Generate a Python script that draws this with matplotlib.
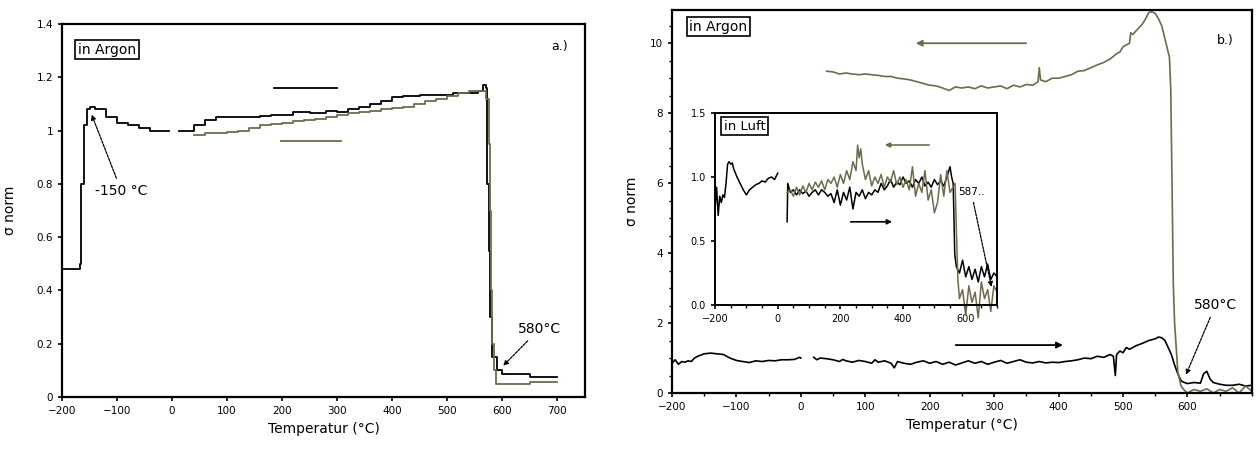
import numpy as np
import matplotlib
matplotlib.use('Agg')
import matplotlib.pyplot as plt

# =============================================================================
# data
# =============================================================================

OLIVE = '#6e6b4b'

# a.) left panel, in Argon
a_heat_T = [-200, -170, -168, -165, -160, -155, -150, -140, -120, -100, -80, -60, -40, -20, -5,
            np.nan,
            12, 25, 40, 60, 80, 120, 160, 180, 200, 220, 250, 280, 300, 320, 340, 360, 380, 400,
            420, 450, 480, 510, 540, 555, 565, 570, 572, 575, 578, 582, 590, 600, 620, 650, 680, 700]
a_heat_s = [0.48, 0.48, 0.50, 0.80, 1.02, 1.08, 1.09, 1.08, 1.05, 1.03, 1.02, 1.01, 1.00, 1.00, 1.00,
            np.nan,
            1.00, 1.00, 1.02, 1.04, 1.05, 1.05, 1.055, 1.06, 1.06, 1.07, 1.065, 1.075, 1.07, 1.08,
            1.09, 1.10, 1.11, 1.125, 1.13, 1.135, 1.135, 1.14, 1.14, 1.15, 1.17, 1.16, 0.80, 0.55,
            0.30, 0.15, 0.10, 0.085, 0.085, 0.075, 0.075, 0.075]

a_cool_T = [700, 650, 600, 592, 588, 585, 582, 580, 578, 575, 570, 560, 540, 520, 500, 480, 460,
            440, 420, 400, 380, 360, 340, 320, 300, 280, 260, 240, 220, 200, 180, 160, 140, 120,
            100, 80, 60, 40]
a_cool_s = [0.055, 0.05, 0.05, 0.05, 0.10, 0.20, 0.40, 0.70, 0.95, 1.12, 1.15, 1.15, 1.14, 1.13,
            1.12, 1.11, 1.10, 1.09, 1.085, 1.08, 1.075, 1.07, 1.065, 1.06, 1.05, 1.045, 1.04,
            1.035, 1.03, 1.025, 1.02, 1.01, 1.00, 0.995, 0.99, 0.99, 0.985, 0.985]

# b.) right panel, in Argon
b_heat_T = [-200, -195, -190, -185, -180, -175, -170, -165, -160, -150, -140, -130, -120, -110,
            -100, -90, -80, -70, -60, -50, -40, -30, -20, -10, -2, 0,
            np.nan,
            20, 25, 30, 40, 50, 60, 65, 70, 80, 90, 100, 110, 115, 120, 130, 140, 145, 150, 160,
            170, 180, 190, 200, 210, 220, 230, 240, 250, 260, 270, 280, 290, 300, 310, 320, 330,
            340, 350, 360, 370, 380, 390, 400, 410, 420, 430, 440, 450, 460, 470, 480, 485, 488,
            490, 495, 500, 505, 510, 520, 530, 540, 550, 555, 560, 565, 570, 575, 580, 585, 590,
            595, 600, 610, 620, 625, 630, 635, 640, 650, 660, 670, 680, 690, 700]
b_heat_s = [0.85, 0.95, 0.82, 0.90, 0.88, 0.92, 0.90, 1.00, 1.05, 1.12, 1.14, 1.12, 1.10, 1.00,
            0.93, 0.90, 0.87, 0.92, 0.90, 0.93, 0.92, 0.95, 0.95, 0.96, 1.02, 1.00,
            np.nan,
            1.02, 0.95, 1.00, 0.98, 0.95, 0.90, 0.96, 0.92, 0.88, 0.93, 0.90, 0.85, 0.95, 0.88,
            0.92, 0.85, 0.72, 0.90, 0.85, 0.82, 0.88, 0.92, 0.85, 0.90, 0.82, 0.88, 0.80, 0.86,
            0.92, 0.85, 0.90, 0.82, 0.88, 0.93, 0.85, 0.90, 0.95, 0.88, 0.86, 0.90, 0.86, 0.88,
            0.87, 0.90, 0.92, 0.95, 1.00, 0.98, 1.05, 1.02, 1.10, 1.05, 0.50, 1.10, 1.20, 1.15,
            1.30, 1.25, 1.35, 1.42, 1.50, 1.55, 1.60, 1.58, 1.50, 1.30, 1.10, 0.80, 0.55, 0.35,
            0.30, 0.27, 0.30, 0.28, 0.55, 0.62, 0.40, 0.30, 0.25, 0.22, 0.22, 0.25, 0.20, 0.22]

b_cool_T = [700, 690, 680, 670, 660, 650, 640, 630, 620, 610, 600, 595, 590, 585, 580, 578, 576,
            574, 572, 568, 564, 560, 555, 550, 545, 540, 535, 530, 525, 520, 515, 512, 510, 505,
            500, 495, 490, 480, 470, 460, 450, 440, 430, 420, 410, 400, 390, 380, 372, 370, 368,
            360, 350, 340, 330, 320, 310, 300, 290, 280, 270, 260, 250, 240, 230, 220, 210, 200,
            190, 180, 170, 160, 150, 140, 130, 120, 110, 100, 90, 80, 70, 60, 50, 40]
b_cool_s = [0.05, 0.20, 0.00, 0.15, 0.05, 0.10, 0.00, 0.12, 0.05, 0.10, 0.00, 0.08, 0.20, 0.60,
            2.00, 3.10, 6.00, 8.70, 9.60, 9.90, 10.20, 10.50, 10.70, 10.85, 10.90, 10.88, 10.70,
            10.55, 10.45, 10.35, 10.25, 10.30, 10.00, 9.95, 9.90, 9.75, 9.70, 9.55, 9.45, 9.38,
            9.30, 9.22, 9.20, 9.10, 9.05, 9.00, 9.00, 8.90, 8.95, 9.30, 8.90, 8.80, 8.82, 8.75,
            8.80, 8.70, 8.78, 8.75, 8.72, 8.78, 8.70, 8.75, 8.72, 8.75, 8.65, 8.72, 8.78, 8.80,
            8.85, 8.90, 8.95, 8.98, 9.00, 9.05, 9.05, 9.08, 9.10, 9.12, 9.10, 9.12, 9.15, 9.12,
            9.18, 9.20]

# inset, in Luft
l_heat_T = [-200, -195, -190, -185, -180, -175, -170, -165, -160, -155, -150, -145, -140, -130,
            -120, -110, -100, -90, -80, -70, -60, -50, -40, -30, -20, -10, 0,
            np.nan,
            30, 32, 40, 50, 60, 70, 80, 90, 100, 110, 120, 130, 140, 150, 160, 170, 180, 190, 200,
            210, 220, 230, 240, 250, 260, 270, 280, 290, 300, 310, 320, 330, 340, 350, 360, 370,
            380, 390, 400, 410, 420, 430, 440, 450, 460, 470, 480, 490, 500, 510, 520, 530, 540,
            550, 555, 560, 565, 570, 580, 590, 600, 610, 620, 630, 640, 650, 660, 670, 680, 690,
            700]
l_heat_s = [0.75, 0.92, 0.70, 0.85, 0.80, 0.86, 0.84, 0.95, 1.10, 1.12, 1.10, 1.11, 1.06, 1.00,
            0.95, 0.90, 0.86, 0.90, 0.92, 0.94, 0.95, 0.97, 0.96, 0.99, 1.00, 0.98, 1.03,
            np.nan,
            0.65, 0.95, 0.88, 0.90, 0.86, 0.90, 0.87, 0.89, 0.85, 0.88, 0.90, 0.86, 0.90, 0.88,
            0.85, 0.87, 0.80, 0.90, 0.78, 0.88, 0.82, 0.92, 0.75, 0.88, 0.85, 0.90, 0.83, 0.88,
            0.86, 0.90, 0.88, 0.95, 0.90, 0.93, 0.98, 0.92, 0.96, 0.94, 1.00, 0.95, 0.97, 0.92,
            0.98, 0.95, 1.00, 0.93, 0.96, 0.92, 0.98, 0.94, 0.97, 0.93, 1.00, 1.08, 1.00, 0.95,
            0.40, 0.30, 0.25, 0.35, 0.22, 0.30, 0.20, 0.28, 0.18, 0.30, 0.22, 0.32, 0.20, 0.25,
            0.22]

l_cool_T = [700, 690, 680, 670, 660, 650, 640, 630, 620, 610, 600, 590, 580, 575, 570, 566, 560,
            550, 540, 530, 520, 510, 500, 490, 480, 470, 460, 450, 440, 430, 420, 410, 400, 390,
            380, 370, 360, 350, 340, 330, 320, 310, 300, 290, 280, 270, 265, 260, 255, 250, 240,
            230, 220, 210, 200, 190, 180, 170, 160, 150, 140, 130, 120, 110, 100, 90, 80, 70, 60,
            50, 40, 30]
l_cool_s = [0.10, 0.15, -0.05, 0.12, 0.05, 0.18, -0.10, 0.10, 0.02, 0.15, -0.08, 0.12, 0.05,
            0.20, 0.60, 0.95, 0.92, 0.88, 1.05, 0.85, 1.02, 0.80, 0.72, 0.90, 0.82, 1.05, 0.88,
            0.95, 0.85, 1.08, 0.90, 0.98, 0.92, 1.00, 0.94, 1.05, 0.96, 1.00, 0.92, 1.02, 0.95,
            1.00, 0.93, 1.05, 0.98, 1.10, 1.22, 1.15, 1.25, 1.05, 1.12, 0.98, 1.05, 0.95, 1.02,
            0.92, 1.00, 0.95, 0.98, 0.90, 0.97, 0.92, 0.96, 0.90, 0.95, 0.88, 0.93, 0.86, 0.92,
            0.85, 0.90, 0.88]

# =============================================================================
# figure
# =============================================================================
plt.rcParams['font.family'] = 'DejaVu Sans'
fig = plt.figure(figsize=(12.6, 4.59), dpi=100)

def frame(ax, lw=1.6):
    for s in ax.spines.values():
        s.set_linewidth(lw)
    ax.tick_params(direction='out', length=3, width=1.2, labelsize=7.5, top=False, right=False)
    ax.tick_params(which='minor', direction='out', length=2, width=1.0)

def boxed(ax, x, y, s, size=10):
    ax.text(x, y, s, transform=ax.transAxes, fontsize=size, va='top', ha='left',
            bbox=dict(boxstyle='square,pad=0.2', fc='white', ec='black', lw=1.2))

arr = dict(arrowstyle='-|>', color='k', lw=0.9, linestyle=(0, (2, 1)), mutation_scale=7)

# ---- a.)
ax1 = fig.add_axes([0.0492, 0.135, 0.415, 0.8126])
frame(ax1)
ax1.plot(a_heat_T, a_heat_s, color='k', lw=1.3, drawstyle='steps-post')
ax1.plot(a_cool_T, a_cool_s, color=OLIVE, lw=1.3, drawstyle='steps-post')
ax1.set_xlim(-200, 750)
ax1.set_ylim(0, 1.4)
ax1.set_xticks(range(-200, 701, 100))
ax1.set_yticks([0, 0.2, 0.4, 0.6, 0.8, 1.0, 1.2, 1.4])
ax1.set_yticklabels(['0', '0.2', '0.4', '0.6', '0.8', '1', '1.2', '1.4'])
ax1.set_xlabel('Temperatur (°C)', fontsize=10)
ax1.set_ylabel('σ norm', fontsize=10, labelpad=14)
boxed(ax1, 0.03, 0.95, 'in Argon')
ax1.text(0.935, 0.93, 'a.)', transform=ax1.transAxes, fontsize=9)
ax1.plot([185, 300], [1.16, 1.16], color='k', lw=1.3)
ax1.plot([198, 307], [0.96, 0.96], color=OLIVE, lw=1.3)
ax1.annotate('-150 °C', xy=(-148, 1.07), xytext=(-140, 0.76), fontsize=10,
             arrowprops=arr)
ax1.annotate('580°C', xy=(598, 0.11), xytext=(628, 0.24), fontsize=10,
             arrowprops=arr)

# ---- b.)
ax2 = fig.add_axes([0.5333, 0.1438, 0.4603, 0.8344])
frame(ax2)
ax2.plot(b_heat_T, b_heat_s, color='k', lw=1.2)
ax2.plot(b_cool_T, b_cool_s, color=OLIVE, lw=1.2)
ax2.set_xlim(-200, 700)
ax2.set_ylim(0, 10.95)
ax2.set_xticks(range(-200, 601, 100))
ax2.set_xticks(range(-200, 701, 50), minor=True)
ax2.set_yticks([0, 2, 4, 6, 8, 10])
ax2.set_yticks(np.arange(0, 11, 0.5), minor=True)
ax2.set_xlabel('Temperatur (°C)', fontsize=10)
ax2.set_ylabel('σ norm', fontsize=10, labelpad=8)
boxed(ax2, 0.03, 0.975, 'in Argon')
ax2.text(0.94, 0.91, 'b.)', transform=ax2.transAxes, fontsize=9)
ax2.annotate('', xy=(174, 10.0), xytext=(354, 10.0),
             arrowprops=dict(arrowstyle='-|>', color=OLIVE, lw=1.3, mutation_scale=9))
ax2.annotate('', xy=(411, 1.37), xytext=(236, 1.37),
             arrowprops=dict(arrowstyle='-|>', color='k', lw=1.3, mutation_scale=9))
ax2.annotate('580°C', xy=(596, 0.45), xytext=(610, 2.4), fontsize=10,
             arrowprops=arr)

# ---- inset
ax3 = fig.add_axes([0.5675, 0.3355, 0.2238, 0.4183])
frame(ax3, lw=1.4)
ax3.plot(l_heat_T, l_heat_s, color='k', lw=1.1)
ax3.plot(l_cool_T, l_cool_s, color=OLIVE, lw=1.1, clip_on=False)
ax3.set_xlim(-200, 700)
ax3.set_ylim(0, 1.5)
ax3.set_xticks(range(-200, 601, 200))
ax3.set_xticks(range(-200, 701, 50), minor=True)
ax3.set_yticks([0, 0.5, 1.0, 1.5])
ax3.set_yticklabels(['0.0', '0.5', '1.0', '1.5'])
ax3.tick_params(labelsize=7)
boxed(ax3, 0.03, 0.965, 'in Luft', size=9.5)
ax3.annotate('', xy=(333, 1.25), xytext=(492, 1.25),
             arrowprops=dict(arrowstyle='-|>', color=OLIVE, lw=1.2, mutation_scale=7))
ax3.annotate('', xy=(374, 0.65), xytext=(224, 0.65),
             arrowprops=dict(arrowstyle='-|>', color='k', lw=1.2, mutation_scale=7))
ax3.annotate('587..', xy=(684, 0.12), xytext=(575, 0.86), fontsize=7.5,
             arrowprops=arr)

fig.savefig('out.png', dpi=100)
